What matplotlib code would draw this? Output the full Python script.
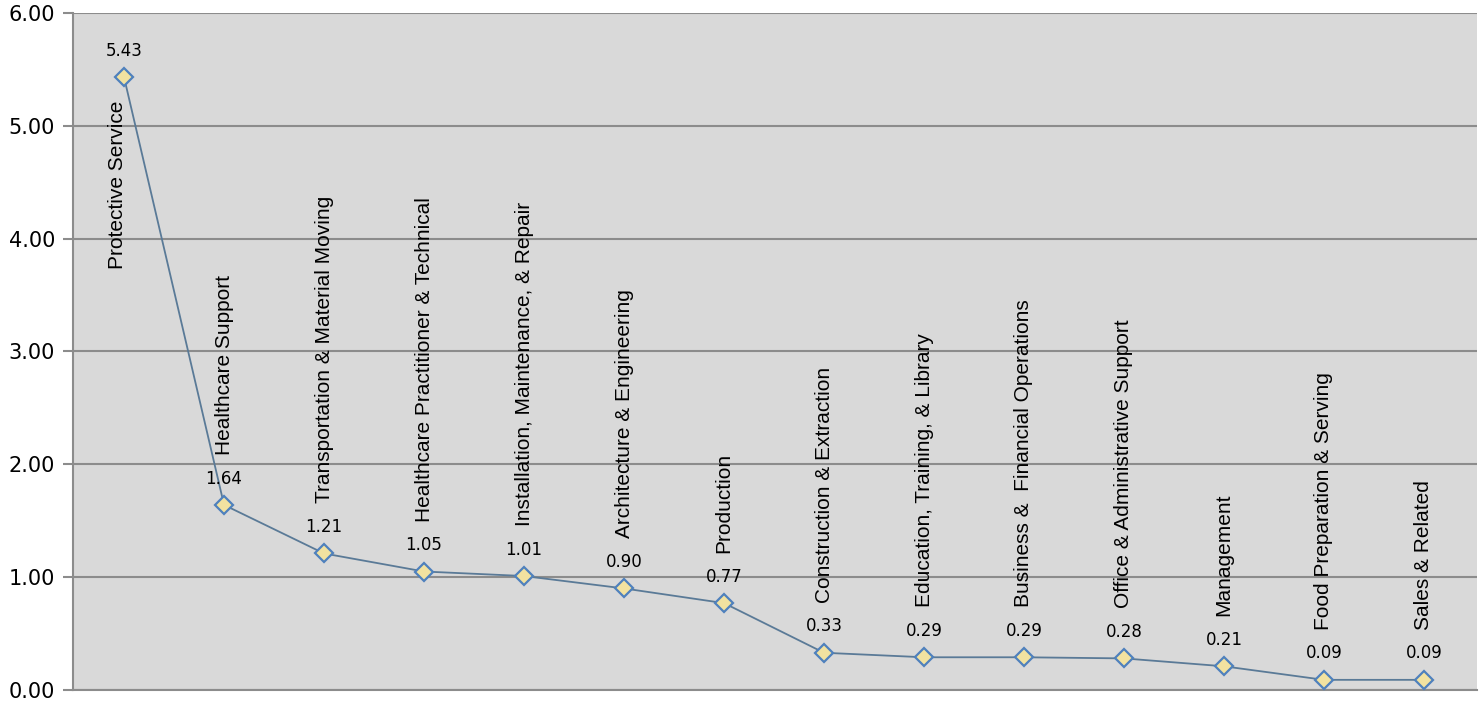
import matplotlib.pyplot as plt

categories = ["Protective Service", "Healthcare Support", "Transportation & Material Moving",
              "Healthcare Practitioner & Technical", "Installation, Maintenance, & Repair",
              "Architecture & Engineering", "Production", "Construction & Extraction",
              "Education, Training, & Library", "Business &  Financial Operations",
              "Office & Administrative Support", "Management", "Food Preparation & Serving",
              "Sales & Related"]
values = [5.43, 1.64, 1.21, 1.05, 1.01, 0.90, 0.77, 0.33, 0.29, 0.29, 0.28, 0.21, 0.09, 0.09]
yticks = [0, 1, 2, 3, 4, 5, 6]

fig = plt.figure(figsize=(14.82, 7.01), dpi=100)
ax = fig.add_axes([0.0493, 0.0157, 0.9473, 0.9658])
ax.set_facecolor("#D9D9D9")

x = list(range(len(values)))
ax.plot(x, values, color="#5A7A97", lw=1.3, marker="D", markersize=9,
        markerfacecolor="#F2E2A0", markeredgecolor="#4F81BD", markeredgewidth=1.6, zorder=3)

for i, (c, v) in enumerate(zip(categories, values)):
    ax.annotate(f"{v:.2f}", (i, v), xytext=(0, 19), textcoords="offset points",
                ha="center", va="center", fontsize=12, family="DejaVu Sans")
    if i == 0:
        ax.annotate(c, (i, v), xytext=(-5, -17), textcoords="offset points",
                    ha="center", va="top", rotation=90, fontsize=15, family="Liberation Sans")
    else:
        ax.annotate(c, (i, v), xytext=(0, 36), textcoords="offset points",
                    ha="center", va="bottom", rotation=90, fontsize=15, family="Liberation Sans")

ax.set_xlim(-0.51, 13.53)
ax.set_ylim(0, 6)
ax.set_xticks([])
ax.set_yticks(yticks)
ax.set_yticklabels([f"{t:.2f}" for t in yticks], fontsize=15, family="DejaVu Sans")
ax.yaxis.grid(True, color="#8C8C8C", lw=1.5)
ax.set_axisbelow(True)
ax.tick_params(axis="y", length=7, width=1.5, color="#8C8C8C", pad=6)
for s in ["top", "right"]:
    ax.spines[s].set_visible(False)
ax.spines["left"].set_color("#8C8C8C")
ax.spines["left"].set_linewidth(1.5)
ax.spines["bottom"].set_color("#8C8C8C")
ax.spines["bottom"].set_linewidth(1.5)

fig.savefig("out.png", dpi=100)
